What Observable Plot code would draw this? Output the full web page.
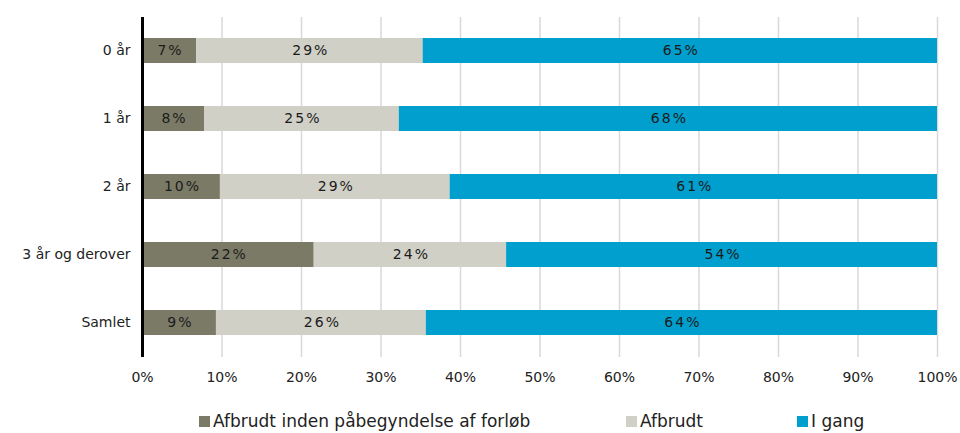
<!DOCTYPE html>
<html>
<head>
<meta charset="utf-8">
<script src="https://cdn.jsdelivr.net/npm/d3@7"></script>
<script src="https://cdn.jsdelivr.net/npm/@observablehq/plot@0.6"></script>
<style>
  html, body { margin: 0; padding: 0; background: #fff; overflow: hidden; }
  body { width: 960px; height: 433px; font-family: "DejaVu Sans", Verdana, sans-serif; }
  #chart svg { display: block; }
  g[aria-label="text"] text { letter-spacing: 2px; }
  #legend { position: relative; height: 33px; font-size: 17px; color: #222; }
  .item { position: absolute; top: 11px; white-space: nowrap; line-height: 20px; }
  .sw { display: inline-block; width: 11px; height: 11px; margin-right: 3px; vertical-align: 0px; }
</style>
</head>
<body>
<div id="chart"></div>
<div id="legend"></div>
<script>
const categories = ["0 år", "1 år", "2 år", "3 år og derover", "Samlet"];
const seriesNames = ["Afbrudt inden påbegyndelse af forløb", "Afbrudt", "I gang"];
const seriesColors = ["#7b7a67", "#d0d0c7", "#009fcd"];
// percent values per series, in category order
const valAfbrudtInden = [6.8, 7.8, 9.8, 21.6, 9.3];
const valAfbrudt = [28.5, 24.5, 28.9, 24.2, 26.4];
const valIGang = [64.7, 67.7, 61.3, 54.2, 64.3];
const xTicks = [0, 10, 20, 30, 40, 50, 60, 70, 80, 90, 100];

const seriesValues = [valAfbrudtInden, valAfbrudt, valIGang];
const data = [];
categories.forEach((c, i) => {
  seriesNames.forEach((s, j) => {
    data.push({category: c, series: s, value: seriesValues[j][i]});
  });
});

const chart = Plot.plot({
  width: 960,
  height: 400,
  marginLeft: 142,
  marginRight: 23,
  marginTop: 17,
  marginBottom: 43,
  style: {fontFamily: "'DejaVu Sans', Verdana, sans-serif", fontSize: "14px", color: "#222", background: "#fff"},
  x: {domain: [0, 100], ticks: xTicks, tickFormat: d => d + "%", label: null},
  y: {domain: categories, paddingInner: 0.63, paddingOuter: 0.315, label: null},
  color: {domain: seriesNames, range: seriesColors},
  marks: [
    Plot.gridX(xTicks, {stroke: "#d9d9d9", strokeOpacity: 1, strokeWidth: 1.5}),
    Plot.barX(data, Plot.stackX({x: "value", y: "category", fill: "series", order: null})),
    Plot.text(data, Plot.stackX({x: "value", y: "category", z: "series", order: null,
      text: d => Math.round(d.value) + "%", fill: "#1a1a1a", fontSize: 14, dx: 1})),
    Plot.ruleX([0], {stroke: "#000", strokeWidth: 3}),
    Plot.axisX(xTicks, {tickSize: 0, tickPadding: 15, tickFormat: d => d + "%", fontSize: 14, label: null}),
    Plot.axisY({tickSize: 0, tickPadding: 12, fontSize: 14, label: null})
  ]
});
document.getElementById("chart").appendChild(chart);

const legendPos = [199, 626, 797];
const legend = document.getElementById("legend");
seriesNames.forEach((s, j) => {
  const item = document.createElement("div");
  item.className = "item";
  item.style.left = legendPos[j] + "px";
  const sw = document.createElement("span");
  sw.className = "sw";
  sw.style.background = seriesColors[j];
  item.appendChild(sw);
  item.appendChild(document.createTextNode(s));
  legend.appendChild(item);
});
</script>
</body>
</html>
